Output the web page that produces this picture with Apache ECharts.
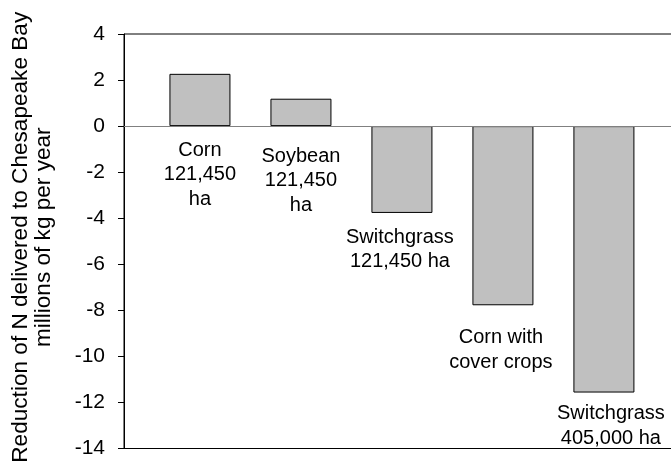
<!DOCTYPE html>
<html>
<head>
<meta charset="utf-8">
<script src="https://cdn.jsdelivr.net/npm/echarts@6/dist/echarts.min.js"></script>
<style>
  html, body { margin: 0; padding: 0; background: #fff; }
  #chart { width: 671px; height: 468px; }
</style>
</head>
<body>
<div id="chart"></div>
<script>
// data
const categories = [
  'Corn\n121,450\nha',
  'Soybean\n121,450\nha',
  'Switchgrass\n121,450 ha',
  'Corn with\ncover crops',
  'Switchgrass\n405,000 ha'
]
const nReduction = [2.27, 1.19, -3.77, -7.78, -11.57]
const yTicks = [-14, -12, -10, -8, -6, -4, -2, 0, 2, 4]

// label spacing under each bar (style only)
const labelGap = [12, 18, 12, 20, 9]
const labelShift = [0, 0, -2, -2, 7]

const font = 'Liberation Sans, Arial, sans-serif'

const chart = echarts.init(document.getElementById('chart'))

const barData = nReduction.map((v, i) => ({
  value: [i, v],
  label: {
    distance: labelGap[i],
    offset: [labelShift[i], 0]
  }
}))

const options = {
  animation: false,
  grid: {
    left: 124,
    right: -2,
    top: 34,
    bottom: 19.5,
    outerBoundsMode: 'none',
    containLabel: false,
    show: true,
    borderColor: '#000',
    borderWidth: 1
  },
  xAxis: {
    type: 'value',
    min: -0.752,
    max: 4.684,
    axisLine: { show: true, onZero: false, lineStyle: { color: '#000' } },
    axisTick: { show: false },
    axisLabel: { show: false },
    splitLine: { show: false }
  },
  yAxis: {
    type: 'value',
    min: yTicks[0],
    max: yTicks[yTicks.length - 1],
    interval: 2,
    name: 'Reduction of N delivered to Chesapeake Bay\nmillions of kg per year',
    nameLocation: 'middle',
    nameRotate: 90,
    nameGap: 68,
    nameTextStyle: {
      fontFamily: font,
      fontSize: 22.6,
      color: '#000',
      lineHeight: 23.5,
      padding: [0, 0, 0, 8]
    },
    axisLine: { show: true, onZero: false, lineStyle: { color: '#000' } },
    axisTick: { show: true, inside: false, length: 6, lineStyle: { color: '#000' } },
    axisLabel: {
      margin: 19,
      fontFamily: font,
      fontSize: 21,
      color: '#000'
    },
    splitLine: { show: false }
  },
  series: [
    {
      type: 'bar',
      barWidth: 61,
      data: barData,
      itemStyle: {
        color: '#c0c0c0',
        borderColor: '#000',
        borderWidth: 1
      },
      label: {
        show: true,
        position: 'bottom',
        formatter: p => categories[p.dataIndex],
        fontFamily: font,
        fontSize: 20,
        lineHeight: 24.5,
        color: '#000',
        align: 'center'
      },
      markLine: {
        silent: true,
        symbol: 'none',
        label: { show: false },
        lineStyle: { color: '#808080', type: 'solid', width: 1 },
        data: [{ yAxis: 0 }]
      }
    }
  ]
}

chart.setOption(options)
</script>
</body>
</html>
